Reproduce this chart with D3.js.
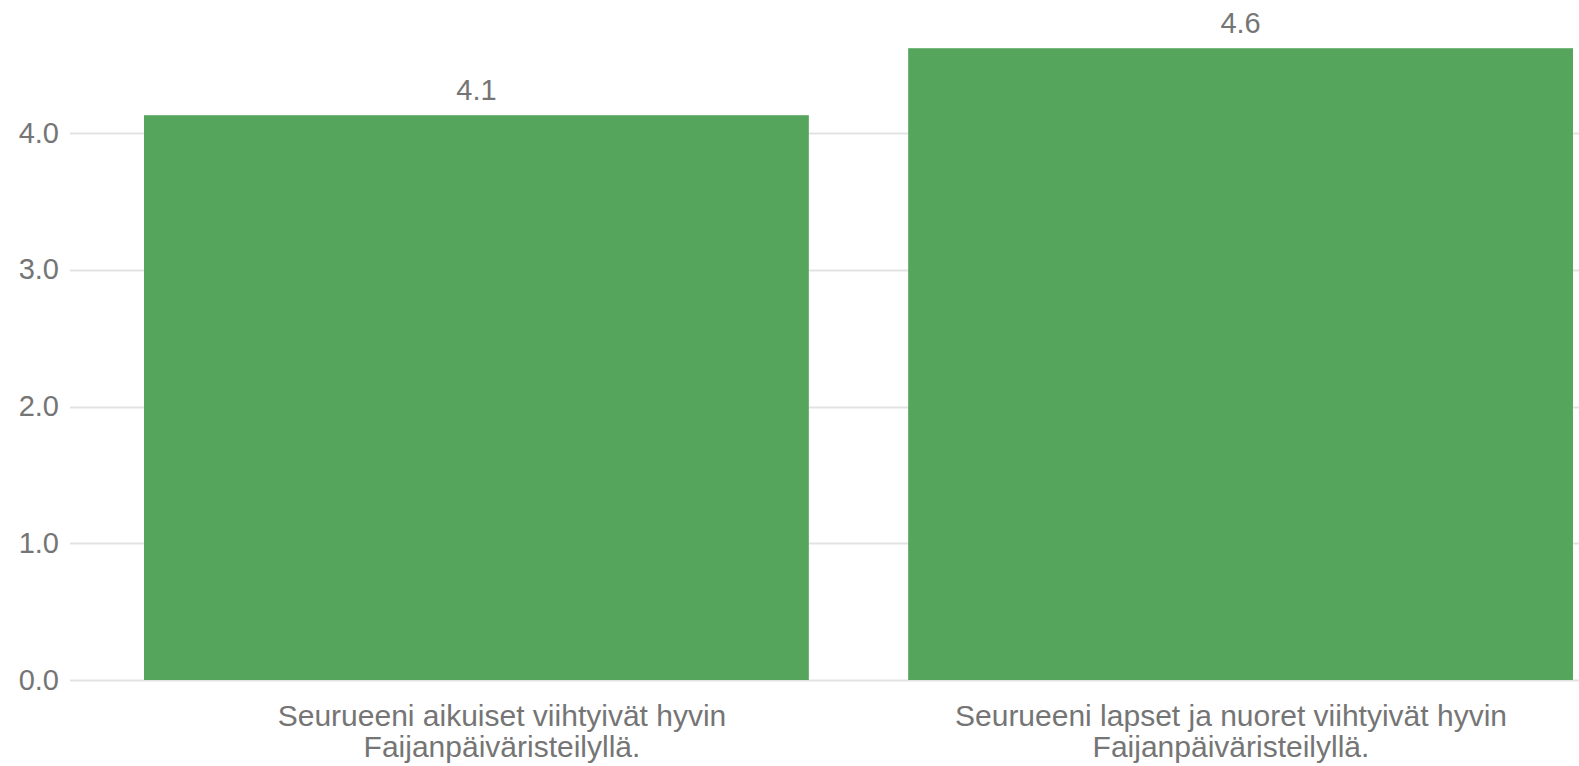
<!DOCTYPE html>
<html>
<head>
<meta charset="utf-8">
<script src="https://cdn.jsdelivr.net/npm/d3@7"></script>
<style>
html,body{margin:0;padding:0;background:#fff;}
svg{display:block;}
text{font-family:"Liberation Sans",Arial,Helvetica,sans-serif;}
</style>
</head>
<body>
<svg id="chart" width="1579" height="766"></svg>
<script>
const categories = [
  ["Seurueeni aikuiset viihtyivät hyvin", "Faijanpäiväristeilyllä."],
  ["Seurueeni lapset ja nuoret viihtyivät hyvin", "Faijanpäiväristeilyllä."]
];
const values = [4.13, 4.62];
const valueLabels = ["4.1", "4.6"];
const yTicks = [0, 1, 2, 3, 4];
const yTickLabels = ["0.0", "1.0", "2.0", "3.0", "4.0"];

const svg = d3.select("#chart");
const W = 1579;
const y = d3.scaleLinear().domain([0, 4]).range([680, 133]);
const x = d3.scaleBand().domain(d3.range(categories.length)).range([144, 1573]).paddingInner(0.13).paddingOuter(0);
// category label anchor positions (labels are not exactly centered under bars in the original)
const xl = d3.scalePoint().domain(d3.range(categories.length)).range([502, 1231]);

// gridlines
svg.append("g").selectAll("line").data(yTicks).join("line")
  .attr("x1", 70).attr("x2", W)
  .attr("y1", d => Math.round(y(d)) + 0.5).attr("y2", d => Math.round(y(d)) + 0.5)
  .attr("stroke", "#e3e3e3").attr("stroke-width", 2);

// y tick labels
svg.append("g").selectAll("text").data(yTicks).join("text")
  .attr("x", 59).attr("y", d => y(d) + 9.5)
  .attr("text-anchor", "end")
  .attr("font-size", 29)
  .attr("fill", "#757575")
  .text((d, i) => yTickLabels[i]);

// bars
svg.append("g").selectAll("rect").data(values).join("rect")
  .attr("x", (d, i) => x(i)).attr("width", x.bandwidth())
  .attr("y", d => y(d)).attr("height", d => y(0) - y(d))
  .attr("fill", "#56a55d");

// value labels
svg.append("g").selectAll("text").data(values).join("text")
  .attr("x", (d, i) => x(i) + x.bandwidth() / 2)
  .attr("y", d => y(d) - 15)
  .attr("text-anchor", "middle")
  .attr("font-size", 29)
  .attr("fill", "#757575")
  .text((d, i) => valueLabels[i]);

// category labels
const cg = svg.append("g").selectAll("text").data(categories).join("text")
  .attr("text-anchor", "middle")
  .attr("font-size", 30)
  .attr("fill", "#757575");
cg.each(function(lines, i) {
  const t = d3.select(this);
  lines.forEach((ln, j) => {
    t.append("tspan")
      .attr("x", xl(i))
      .attr("y", 726 + j * 31)
      .text(ln);
  });
});
</script>
</body>
</html>
